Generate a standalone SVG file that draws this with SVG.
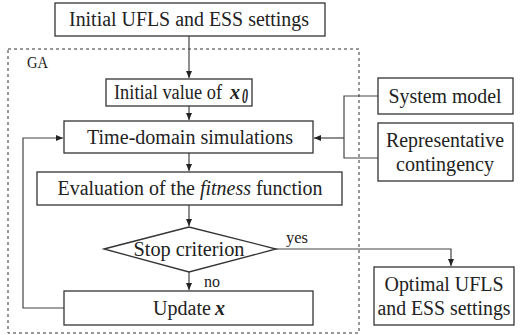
<svg xmlns="http://www.w3.org/2000/svg" width="530" height="335" viewBox="0 0 530 335" font-family="'Liberation Serif', 'Times New Roman', serif">
<style>
.box{fill:#fff;stroke:#333;stroke-width:1.3}
.t{font-family:'Liberation Serif','Times New Roman',serif;font-size:20px;fill:#222;text-anchor:middle}
.s{font-family:'Liberation Serif','Times New Roman',serif;font-size:16px;fill:#222}
.c{fill:none;stroke:#444;stroke-width:1.2}
.bi{font-weight:bold;font-style:italic;text-anchor:start}
</style>
<defs>
<marker id="ah" markerWidth="8" markerHeight="8" refX="7" refY="4" orient="auto" markerUnits="userSpaceOnUse">
<path d="M0,1 L7,4 L0,7 Z" fill="#222"/>
</marker>
</defs>
<rect x="8" y="49" width="351" height="284" fill="none" stroke="#333" stroke-width="1" stroke-dasharray="3,3"/>
<text class="s" x="27" y="68" font-size="15" textLength="21" lengthAdjust="spacingAndGlyphs">GA</text>
<g id="connectors">
<path class="c" d="M189,36 V78" marker-end="url(#ah)"/>
<path class="c" d="M189,106 V120" marker-end="url(#ah)"/>
<path class="c" d="M189,153 V171" marker-end="url(#ah)"/>
<path class="c" d="M189,205 V226" marker-end="url(#ah)"/>
<path class="c" d="M189,272 V290" marker-end="url(#ah)"/>
<path class="c" d="M64,308 H23 V138 H63" marker-end="url(#ah)"/>
<path class="c" d="M378,96 H344 V158 H378"/>
<path class="c" d="M344,138 H314" marker-end="url(#ah)"/>
<path class="c" d="M276,249 H451 V266" marker-end="url(#ah)"/>
</g>
<text class="s" x="286" y="243" textLength="22" lengthAdjust="spacingAndGlyphs">yes</text>
<text class="s" x="204" y="287" textLength="16" lengthAdjust="spacingAndGlyphs">no</text>
<g id="init"><rect class="box" x="55" y="3" width="270" height="33"/><text class="t" x="189" y="26" textLength="240" lengthAdjust="spacingAndGlyphs">Initial UFLS and ESS settings</text></g>
<g id="x0"><rect class="box" x="106" y="79" width="146" height="27"/><text class="t" x="168" y="99" textLength="108" lengthAdjust="spacingAndGlyphs">Initial value of</text><text class="t bi" x="230" y="99" textLength="10" lengthAdjust="spacingAndGlyphs">x</text><text class="t bi" x="242" y="103" font-size="12" textLength="6" lengthAdjust="spacingAndGlyphs">0</text></g>
<g id="sim"><rect class="box" x="64" y="121" width="249" height="32"/><text class="t" x="190" y="143.5" textLength="206" lengthAdjust="spacingAndGlyphs">Time-domain simulations</text></g>
<g id="eval"><rect class="box" x="37" y="172" width="305" height="33"/><text class="t" x="190" y="195" textLength="265" lengthAdjust="spacingAndGlyphs">Evaluation of the <tspan font-style="italic">fitness</tspan> function</text></g>
<g id="stop"><polygon class="box" points="104,249 189,227 276,249 189,272"/><text class="t" x="189" y="256" textLength="111" lengthAdjust="spacingAndGlyphs">Stop criterion</text></g>
<g id="update"><rect class="box" x="64" y="291" width="249" height="34"/><text class="t" x="182" y="314.5" textLength="58" lengthAdjust="spacingAndGlyphs">Update</text><text class="t bi" x="215" y="314.5">x</text></g>
<g id="sysmodel"><rect class="box" x="378" y="78" width="135" height="36"/><text class="t" x="445" y="102.5" textLength="113" lengthAdjust="spacingAndGlyphs">System model</text></g>
<g id="contingency"><rect class="box" x="378" y="123" width="135" height="58"/><text class="t" x="445" y="147" textLength="118" lengthAdjust="spacingAndGlyphs">Representative</text><text class="t" x="445" y="171" textLength="98" lengthAdjust="spacingAndGlyphs">contingency</text></g>
<g id="optimal"><rect class="box" x="374" y="267" width="140" height="58"/><text class="t" x="444" y="291" textLength="119" lengthAdjust="spacingAndGlyphs">Optimal UFLS</text><text class="t" x="444" y="315" textLength="133" lengthAdjust="spacingAndGlyphs">and ESS settings</text></g>
</svg>
